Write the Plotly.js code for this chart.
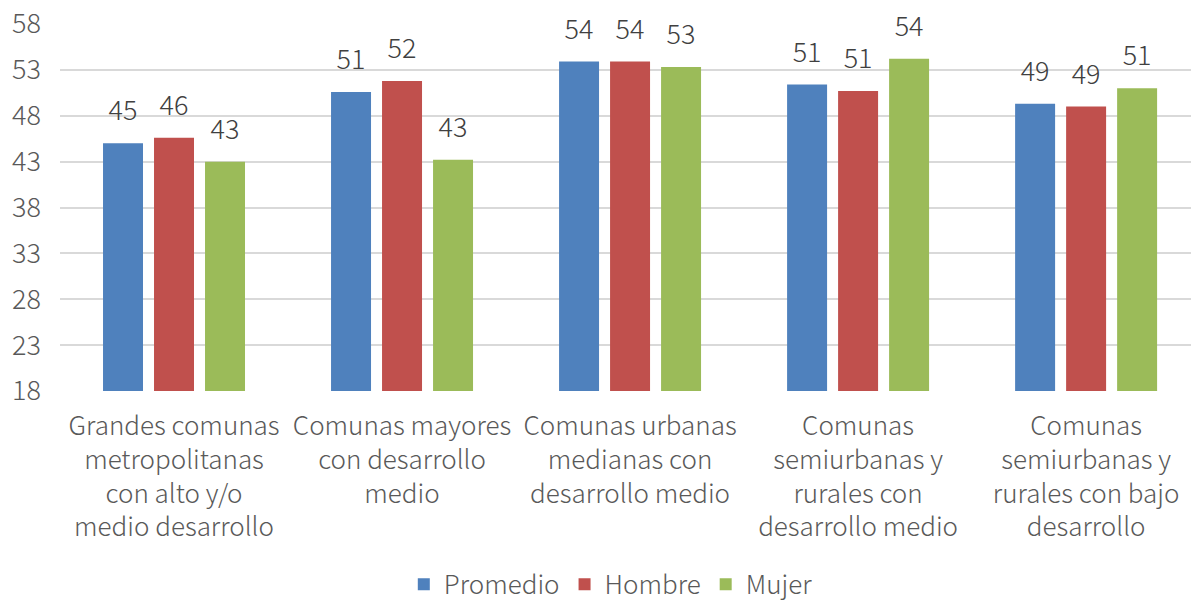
<!DOCTYPE html>
<html>
<head>
<meta charset="utf-8">
<script src="https://cdn.plot.ly/plotly-3.0.1.min.js"></script>
<style>
  body { margin: 0; background: #fff; }
  #chart { width: 1191px; height: 604px; }
</style>
</head>
<body>
<div id="chart"></div>
<script>
let categories = [
    "Grandes comunas<br>metropolitanas<br>con alto y/o<br>medio desarrollo",
    "Comunas mayores<br>con desarrollo<br>medio",
    "Comunas urbanas<br>medianas con<br>desarrollo medio",
    "Comunas<br>semiurbanas y<br>rurales con<br>desarrollo medio",
    "Comunas<br>semiurbanas y<br>rurales con bajo<br>desarrollo"
];

let promedio = [45.0, 50.6, 53.9, 51.4, 49.3];
let hombre = [45.6, 51.8, 53.9, 50.7, 49.0];
let mujer = [43.0, 43.2, 53.3, 54.2, 51.0];

let yTicks = [18, 23, 28, 33, 38, 43, 48, 53, 58];

let font = "Noto Sans CJK SC, sans-serif";
let fsize = 27;

function makeTrace(name, values, color) {
    return {
        x: categories,
        y: values,
        name: name,
        type: 'bar',
        marker: { color: color },
        text: values.map(v => Math.round(v).toString()),
        textposition: 'outside',
        textfont: { family: font, size: fsize, color: '#404040', weight: 300 },
        cliponaxis: false,
        hoverinfo: 'none'
    };
}

let data = [
    makeTrace("Promedio", promedio, '#4F81BD'),
    makeTrace("Hombre", hombre, '#C0504D'),
    makeTrace("Mujer", mujer, '#9BBB59')
];

let layout = {
    width: 1191,
    height: 604,
    margin: { l: 60, r: 0, t: 24, b: 213, autoexpand: false },
    paper_bgcolor: '#fff',
    plot_bgcolor: '#fff',
    barmode: 'group',
    bargap: 0.329,
    bargroupgap: 0.216,
    showlegend: true,
    font: { family: font, color: '#595959', weight: 300 },
    xaxis: {
        range: [-0.5, 4.46],
        tickfont: { family: font, size: 26, color: '#595959', weight: 300 },
        ticklabelstandoff: 17,
        showgrid: false,
        zeroline: false,
        showline: false,
        ticks: ''
    },
    yaxis: {
        range: [18, 58],
        tickvals: yTicks,
        ticktext: yTicks.map(String),
        tickfont: { family: font, size: fsize, color: '#595959', weight: 300 },
        ticklabelstandoff: 18,
        showgrid: true,
        gridcolor: '#D9D9D9',
        gridwidth: 2,
        zeroline: false,
        showline: false,
        ticks: ''
    },
    legend: {
        orientation: 'h',
        x: 0.487,
        xanchor: 'center',
        y: -0.527,
        yanchor: 'middle',
        font: { family: font, size: 26, color: '#595959', weight: 300 },
        itemwidth: 30
    }
};

Plotly.newPlot('chart', data, layout, { staticPlot: true }).then(function (gd) {
    // Excel leaves a bigger gap between the value and the bar top
    gd.querySelectorAll('.bartext').forEach(function (t) {
        t.setAttribute('y', parseFloat(t.getAttribute('y') || 0) - 12);
    });
});
</script>
</body>
</html>
